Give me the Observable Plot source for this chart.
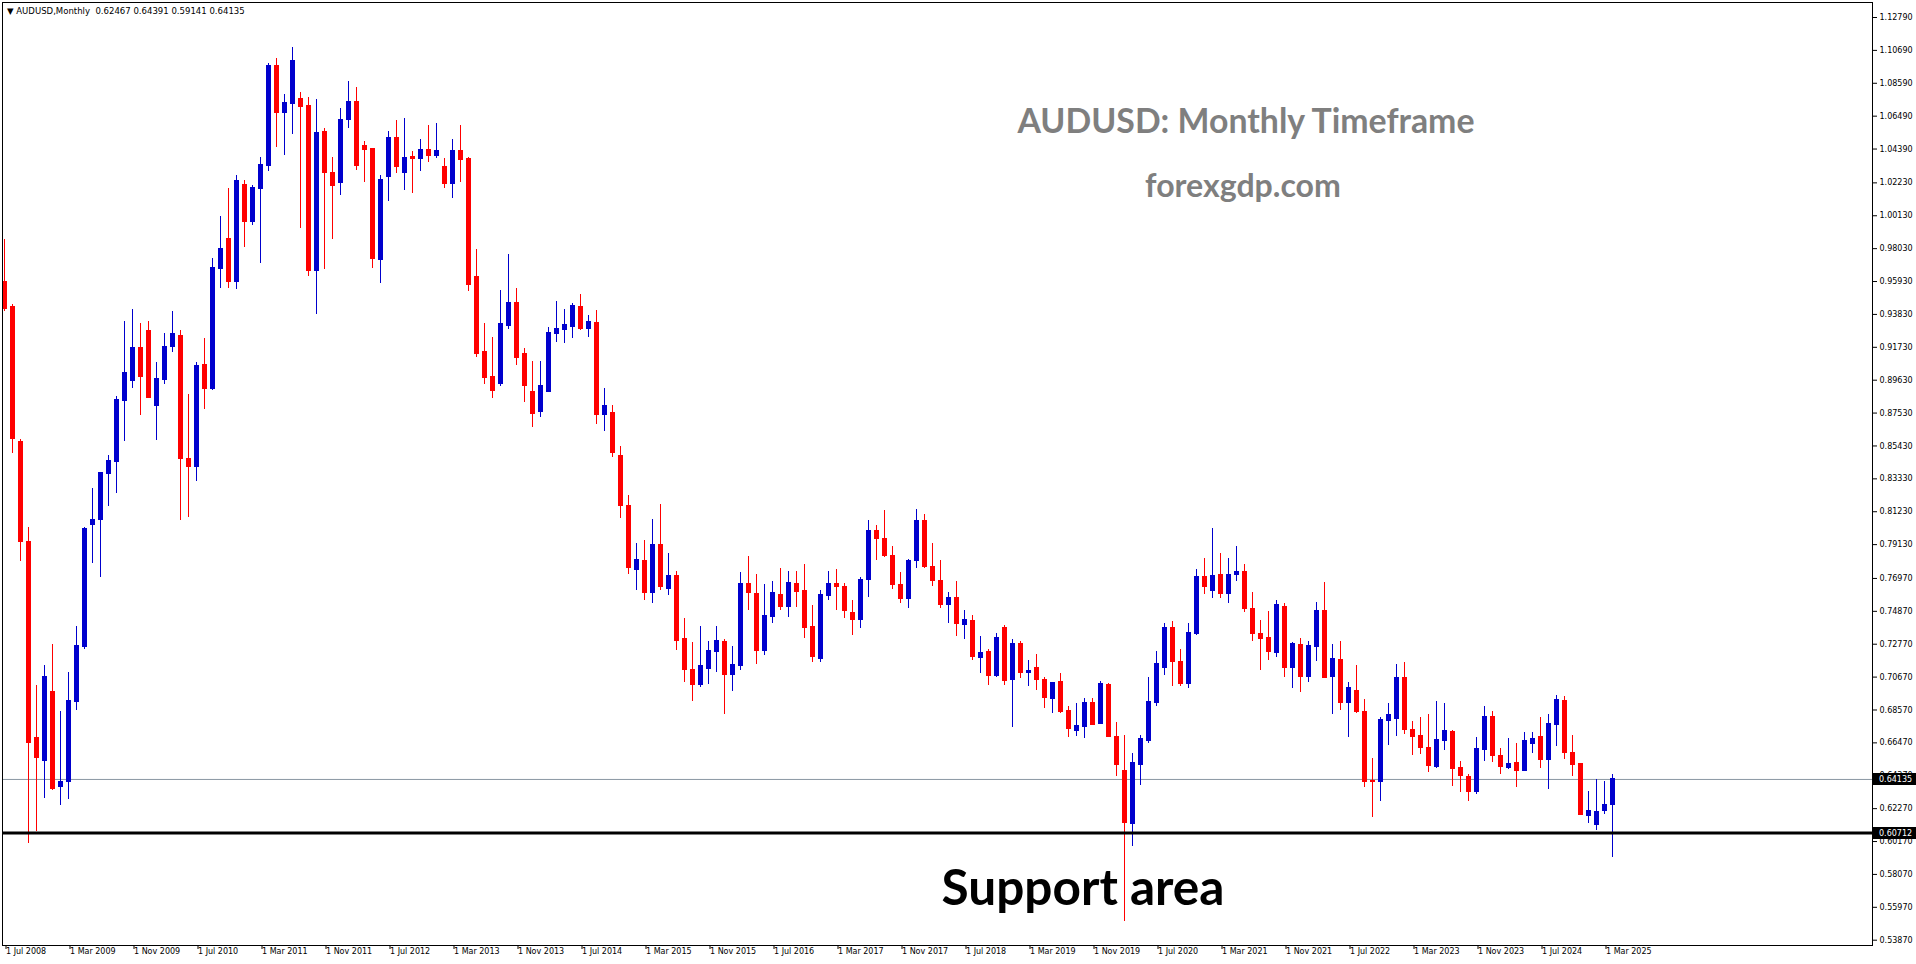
<!DOCTYPE html>
<html><head><meta charset="utf-8">
<script src="https://cdn.jsdelivr.net/npm/d3@7"></script>
<script src="https://cdn.jsdelivr.net/npm/@observablehq/plot@0.6"></script>
<style>
html,body{margin:0;padding:0;background:#fff;}
#chart{position:relative;width:1916px;height:964px;overflow:hidden;background:#fff}
</style></head><body><div id="chart"></div>
<script>
// AUDUSD monthly candles, Jul 2008 .. Apr 2025 (one entry per month)
const firstMonth = "2008-07";
const opens = [
0.9586,0.9427,0.8564,0.7926,0.6674,0.6531,0.6968,0.6359,0.6391,0.6907,0.7259,0.8038,
0.8064,0.8358,0.8440,0.8829,0.8954,0.9165,0.9274,0.8797,0.8964,0.9173,0.9242,0.8456,
0.8408,0.9057,0.8901,0.9672,0.9861,0.9589,1.0206,0.9972,1.0183,1.0330,1.0966,1.0668,
1.0726,1.0755,1.0711,0.9659,1.0545,1.0283,1.0221,1.0621,1.0736,1.0455,1.0436,0.9727,
1.0259,1.0506,1.0285,1.0385,1.0374,1.0430,1.0392,1.0321,1.0212,1.0422,1.0371,0.9621,
0.9140,0.8980,0.8935,0.9307,0.9454,0.9127,0.8884,0.8755,0.8884,0.9257,0.9282,0.9300,
0.9429,0.9287,0.9328,0.8737,0.8750,0.8474,0.8154,0.7748,0.7805,0.7603,0.7907,0.7629,
0.7709,0.7307,0.7109,0.7015,0.7118,0.7226,0.7288,0.7079,0.7137,0.7658,0.7594,0.7233,
0.7450,0.7588,0.7514,0.7658,0.7614,0.7384,0.7181,0.7584,0.7658,0.7640,0.7473,0.7431,
0.7685,0.7995,0.7945,0.7840,0.7655,0.7563,0.7805,0.8060,0.7765,0.7675,0.7526,0.7569,
0.7399,0.7422,0.7186,0.7224,0.7071,0.7377,0.7045,0.7275,0.7090,0.7122,0.7045,0.6926,
0.7030,0.6847,0.6722,0.6747,0.6898,0.6766,0.7013,0.6681,0.6464,0.6128,0.6505,0.6656,
0.6901,0.7124,0.7377,0.7160,0.7022,0.7337,0.7703,0.7616,0.7716,0.7597,0.7718,0.7735,
0.7499,0.7339,0.7314,0.7220,0.7511,0.7124,0.7269,0.7067,0.7258,0.7486,0.7067,0.7173,
0.6900,0.6975,0.6841,0.6400,0.6396,0.6786,0.6798,0.7058,0.6726,0.6688,0.6611,0.6492,
0.6658,0.6713,0.6483,0.6426,0.6332,0.6600,0.6809,0.6560,0.6483,0.6515,0.6466,0.6639,
0.6681,0.6537,0.6760,0.6911,0.6579,0.6509,0.6179,0.6122,0.6211,0.62467];
const highs = [
0.9859,0.9440,0.8583,0.8022,0.7013,0.7140,0.7270,0.6846,0.7095,0.7384,0.8019,0.8265,
0.8370,0.8482,0.8853,0.9332,0.9409,0.9324,0.9332,0.9075,0.9255,0.9396,0.9279,0.8866,
0.9070,0.9224,0.9740,1.0008,1.0187,1.0264,1.0232,1.0204,1.0379,1.0983,1.1017,1.0781,
1.1087,1.0794,1.0768,1.0755,1.0570,1.0385,1.0692,1.0864,1.0826,1.0481,1.0440,1.0264,
1.0545,1.0621,1.0628,1.0417,1.0494,1.0589,1.0602,1.0376,1.0498,1.0589,1.0382,0.9794,
0.9320,0.9231,0.9530,0.9763,0.9545,0.9165,0.9082,0.9077,0.9294,0.9462,0.9409,0.9449,
0.9505,0.9371,0.9404,0.8909,0.8795,0.8537,0.8225,0.7914,0.7939,0.8070,0.8165,0.7850,
0.7741,0.7441,0.7282,0.7384,0.7288,0.7390,0.7307,0.7262,0.7729,0.7837,0.7722,0.7652,
0.7677,0.7760,0.7735,0.7735,0.7780,0.7524,0.7614,0.7741,0.7750,0.7660,0.7556,0.7700,
0.8065,0.8035,0.8125,0.7900,0.7730,0.7815,0.8135,0.8100,0.7915,0.7810,0.7607,0.7675,
0.7486,0.7454,0.7320,0.7243,0.7345,0.7396,0.7301,0.7288,0.7173,0.7211,0.7064,0.7030,
0.7084,0.6873,0.6898,0.6930,0.6930,0.7033,0.7020,0.6777,0.6688,0.6573,0.6688,0.7064,
0.7230,0.7403,0.7416,0.7243,0.7409,0.7748,0.7824,0.8010,0.7850,0.7818,0.7895,0.7780,
0.7601,0.7428,0.7480,0.7556,0.7537,0.7282,0.7313,0.7288,0.7543,0.7665,0.7269,0.7288,
0.7032,0.7141,0.6918,0.6547,0.6803,0.6898,0.7147,0.7160,0.6783,0.6809,0.6822,0.6905,
0.6898,0.6726,0.6522,0.6445,0.6681,0.6873,0.6841,0.6611,0.6669,0.6643,0.6713,0.6707,
0.6803,0.6828,0.6945,0.6937,0.6688,0.6515,0.6332,0.6409,0.6396,0.64391];
const lows = [
0.9396,0.8490,0.7802,0.5999,0.6081,0.6288,0.6338,0.6243,0.6282,0.6849,0.7238,0.7789,
0.7699,0.8151,0.8236,0.8567,0.8906,0.8734,0.8845,0.8575,0.8932,0.9136,0.8064,0.8080,
0.8313,0.8771,0.8895,0.9546,0.9544,0.9538,0.9806,0.9946,0.9704,1.0291,1.0445,1.0394,
1.0528,0.9927,0.9621,0.9382,0.9666,0.9861,1.0142,1.0570,1.0302,1.0225,0.9670,0.9580,
1.0098,1.0279,1.0170,1.0151,1.0291,1.0349,1.0374,1.0181,1.0118,1.0219,0.9528,0.9102,
0.8932,0.8841,0.8920,0.9284,0.9054,0.8816,0.8656,0.8719,0.8884,0.9201,0.9191,0.9224,
0.9274,0.9231,0.8674,0.8633,0.8468,0.8076,0.7716,0.7620,0.7556,0.7531,0.7616,0.7582,
0.7233,0.7032,0.6907,0.6996,0.7015,0.7092,0.6824,0.6971,0.7105,0.7488,0.7143,0.7201,
0.7405,0.7488,0.7443,0.7507,0.7309,0.7156,0.7160,0.7552,0.7488,0.7435,0.7328,0.7371,
0.7573,0.7810,0.7830,0.7625,0.7531,0.7499,0.7760,0.7760,0.7640,0.7500,0.7409,0.7320,
0.7307,0.7173,0.7086,0.7013,0.7064,0.7013,0.6741,0.7052,0.7001,0.6981,0.6862,0.6830,
0.6830,0.6677,0.6683,0.6671,0.6754,0.6760,0.6683,0.6428,0.5506,0.5980,0.6371,0.6643,
0.6875,0.7073,0.7003,0.7003,0.6990,0.7331,0.7590,0.7565,0.7565,0.7533,0.7673,0.7475,
0.7290,0.7105,0.7169,0.7188,0.7060,0.6990,0.6964,0.7028,0.7162,0.7054,0.6824,0.6849,
0.6677,0.6830,0.6358,0.6166,0.6268,0.6626,0.6683,0.6696,0.6562,0.6568,0.6454,0.6479,
0.6594,0.6364,0.6326,0.6268,0.6313,0.6524,0.6517,0.6441,0.6471,0.6358,0.6460,0.6575,
0.6479,0.6345,0.6620,0.6537,0.6428,0.6179,0.6128,0.6083,0.6185,0.59141];
const closes = [
0.9417,0.8583,0.7924,0.6642,0.6545,0.7063,0.6351,0.6394,0.6910,0.7262,0.8009,0.8067,
0.8366,0.8443,0.8834,0.9006,0.9165,0.8983,0.8848,0.8967,0.9171,0.9255,0.8459,0.8408,
0.9052,0.8903,0.9676,0.9798,0.9589,1.0232,0.9972,1.0187,1.0334,1.0966,1.0668,1.0730,
1.0998,1.0706,0.9659,1.0538,1.0285,1.0202,1.0621,1.0736,1.0328,1.0430,0.9734,1.0238,
1.0506,1.0323,1.0379,1.0374,1.0430,1.0392,1.0422,1.0212,1.0422,1.0366,0.9566,0.9127,
0.8975,0.8892,0.9320,0.9454,0.9102,0.8925,0.8745,0.8922,0.9262,0.9287,0.9312,0.9436,
0.9287,0.9333,0.8737,0.8795,0.8494,0.8154,0.7762,0.7812,0.7603,0.7907,0.7641,0.7709,
0.7296,0.7111,0.7015,0.7135,0.7230,0.7294,0.7079,0.7141,0.7658,0.7603,0.7233,0.7454,
0.7601,0.7514,0.7665,0.7609,0.7379,0.7194,0.7588,0.7658,0.7640,0.7488,0.7431,0.7685,
0.7995,0.7945,0.7840,0.7655,0.7563,0.7805,0.8060,0.7765,0.7675,0.7526,0.7569,0.7405,
0.7428,0.7192,0.7218,0.7071,0.7313,0.7039,0.7275,0.7090,0.7101,0.7045,0.6932,0.7024,
0.6843,0.6734,0.6749,0.6898,0.6760,0.7020,0.6683,0.6505,0.6134,0.6513,0.6669,0.6905,
0.7147,0.7377,0.7162,0.7022,0.7345,0.7703,0.7641,0.7709,0.7597,0.7716,0.7735,0.7501,
0.7341,0.7307,0.7226,0.7524,0.7124,0.7275,0.7067,0.7262,0.7486,0.7060,0.7179,0.6900,
0.6994,0.6843,0.6396,0.6396,0.6790,0.6822,0.7058,0.6728,0.6683,0.6613,0.6498,0.6662,
0.6720,0.6479,0.6434,0.6332,0.6605,0.6809,0.6562,0.6492,0.6509,0.6466,0.6656,0.6669,
0.6537,0.6764,0.6918,0.6581,0.6505,0.6183,0.6209,0.6202,0.6247,0.64135];

const timeTickIdx = [0,8,16,24,32,40,48,56,64,72,80,88,96,104,112,120,128,136,144,152,160,168,176,184,192,200];
const timeTickLabels = ["1 Jul 2008","1 Mar 2009","1 Nov 2009","1 Jul 2010","1 Mar 2011","1 Nov 2011","1 Jul 2012","1 Mar 2013","1 Nov 2013","1 Jul 2014","1 Mar 2015","1 Nov 2015","1 Jul 2016","1 Mar 2017","1 Nov 2017","1 Jul 2018","1 Mar 2019","1 Nov 2019","1 Jul 2020","1 Mar 2021","1 Nov 2021","1 Jul 2022","1 Mar 2023","1 Nov 2023","1 Jul 2024","1 Mar 2025"];
const priceTicks = [1.12790,1.10690,1.08590,1.06490,1.04390,1.02230,1.00130,0.98030,0.95930,0.93830,0.91730,0.89630,0.87530,0.85430,0.83330,0.81230,0.79130,0.76970,0.74870,0.72770,0.70670,0.68570,0.66470,0.64370,0.62270,0.60170,0.58070,0.55970,0.53870];
const lastPrice = 0.64135;
const supportPrice = 0.60712;
const headerText = "\u25BC AUDUSD,Monthly  0.62467 0.64391 0.59141 0.64135";
const titleText = "AUDUSD: Monthly Timeframe";
const siteText = "forexgdp.com";
const supportText = "Support area";

const UP = "#0000CD", DOWN = "#FF0000";
const candles = opens.map((o, i) => ({i, o, h: highs[i], l: lows[i], c: closes[i],
  lo: Math.min(o, closes[i]), hi: Math.max(o, closes[i]), up: closes[i] >= o}));
const ups = candles.filter(d => d.up), downs = candles.filter(d => !d.up);

const wick = (data, color) => Plot.rect(data, {x1: d => d.i - 0.0625, x2: d => d.i + 0.0625, y1: "l", y2: "h",
  fill: color, dx: -0.5, dy: -0.5, shapeRendering: "crispEdges", clip: true});
const body = (data, color) => Plot.rect(data, {x1: d => d.i - 0.3125, x2: d => d.i + 0.3125, y1: "lo", y2: "hi",
  fill: color, insetTop: -0.5, insetBottom: -0.5, dx: -0.5, dy: -0.5, shapeRendering: "crispEdges", clip: true});

const chart = Plot.plot({
  width: 1916, height: 964,
  marginLeft: 2, marginRight: 44, marginTop: 2, marginBottom: 19,
  style: {background: "#fff", fontFamily: "DejaVu Sans", fontSize: "8px", color: "#000", overflow: "visible"},
  x: {type: "linear", domain: [-0.3125, 233.4375], range: [2, 1872], axis: null},
  y: {type: "linear", domain: [0.53531, 1.13748], range: [945, 2], axis: null},
  marks: [
    Plot.ruleY([lastPrice], {stroke: "#8a96a2", strokeWidth: 1}),
    wick(ups, UP), wick(downs, DOWN),
    body(ups, UP), body(downs, DOWN),
    Plot.ruleY([supportPrice], {stroke: "#000", strokeWidth: 3}),
    Plot.frame({stroke: "#000"}),
    Plot.axisY({anchor: "right", ticks: priceTicks, tickFormat: d => d.toFixed(5), tickSize: 4, tickPadding: 3,
      fontSize: 8, fontFamily: "DejaVu Sans"}),
    Plot.axisX({anchor: "bottom", ticks: timeTickIdx, tickFormat: d => timeTickLabels[timeTickIdx.indexOf(d)],
      tickSize: 4, tickPadding: -1, textAnchor: "start", dx: 1, fontSize: 8, fontFamily: "DejaVu Sans"})
  ]
});
document.getElementById("chart").appendChild(chart);

const svg = d3.select(chart);
const ys = chart.scale("y");
// price labels on the axis
for (const p of [lastPrice, supportPrice]) {
  const y = Math.round(ys.apply(p));
  svg.append("rect").attr("x", 1873).attr("y", y - 6).attr("width", 43).attr("height", 12).attr("fill", "#000");
  svg.append("text").attr("x", 1879).attr("y", y).attr("dy", "0.35em").attr("fill", "#fff")
    .attr("text-anchor", "start").attr("font-family", "DejaVu Sans").attr("font-size", 8).text(p.toFixed(5));
}
function fit(sel, w) {
  const cur = sel.node().getComputedTextLength();
  const fs = parseFloat(sel.attr("font-size"));
  sel.attr("font-size", (fs * w / cur).toFixed(2));
}
const hdr = svg.append("text").attr("x", 7).attr("y", 14).attr("text-anchor", "start")
  .attr("font-family", "DejaVu Sans").attr("font-size", 8.5)
  .attr("fill", "#000").style("white-space", "pre").text(headerText);
fit(hdr, 238);
const t1 = svg.append("text").attr("x", 1246).attr("y", 133).attr("text-anchor", "middle")
  .attr("font-family", "Lato").attr("font-weight", 700).attr("font-size", 33).attr("fill", "#7f7f7f").text(titleText);
fit(t1, 457);
const t2 = svg.append("text").attr("x", 1243).attr("y", 197).attr("text-anchor", "middle")
  .attr("font-family", "Lato").attr("font-weight", 700).attr("font-size", 33).attr("fill", "#7f7f7f").text(siteText);
fit(t2, 196);
const t3 = svg.append("text").attr("x", 1083).attr("y", 905).attr("text-anchor", "middle")
  .attr("font-family", "Lato").attr("font-weight", 700).attr("font-size", 50).attr("fill", "#000").text(supportText);
fit(t3, 283);
</script></body></html>
